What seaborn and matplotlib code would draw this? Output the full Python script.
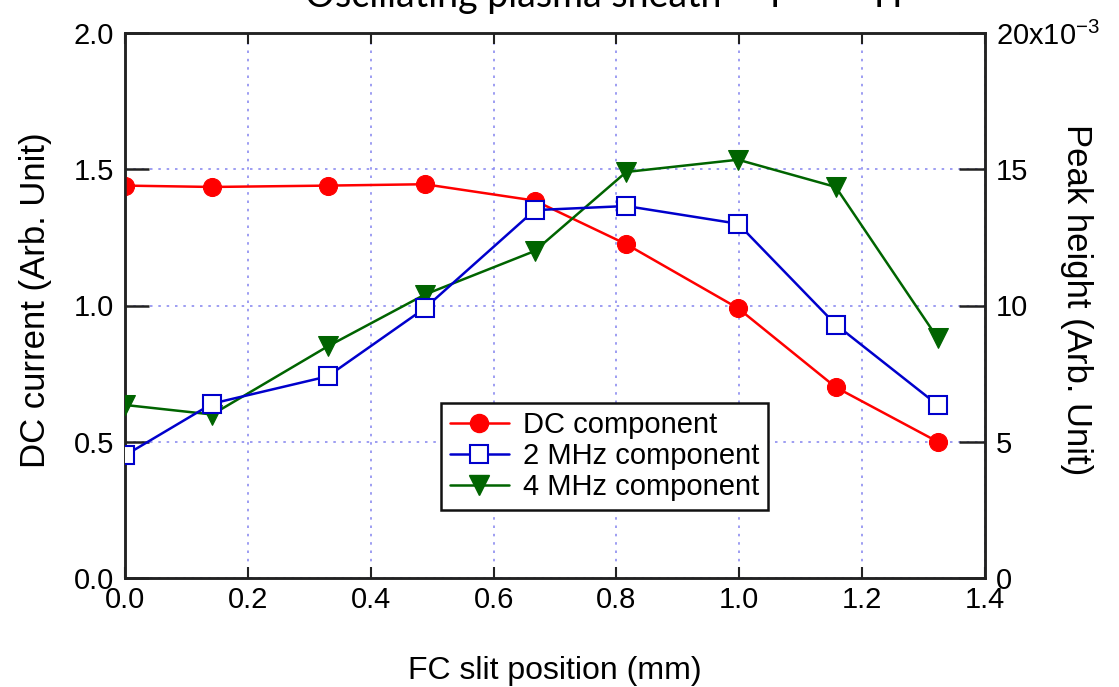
import matplotlib
matplotlib.use("Agg")
import matplotlib.pyplot as plt
from matplotlib import font_manager
from matplotlib.lines import Line2D
import seaborn as sns
import pandas as pd

# FC slit positions (mm)
slit_pos = [0.0, 0.142, 0.33, 0.488, 0.667, 0.816, 0.998, 1.157, 1.323]
# DC current (Arb. Unit), left axis
dc_current = [1.44, 1.435, 1.44, 1.445, 1.385, 1.225, 0.99, 0.70, 0.50]
# Peak heights (Arb. Unit), right axis
peak_2mhz = [4.5e-3, 6.4e-3, 7.4e-3, 9.9e-3, 13.5e-3, 13.65e-3, 13.0e-3, 9.3e-3, 6.35e-3]
peak_4mhz = [6.35e-3, 6.0e-3, 8.5e-3, 10.4e-3, 12.0e-3, 14.9e-3, 15.35e-3, 14.35e-3, 8.8e-3]

x_ticks = [0.0, 0.2, 0.4, 0.6, 0.8, 1.0, 1.2, 1.4]
left_ticks = [0.0, 0.5, 1.0, 1.5, 2.0]
right_ticks = [0.0, 5e-3, 10e-3, 15e-3, 20e-3]
right_labels = ["0", "5", "10", "15", "20x10$^{\u22123}$"]


def pick_font(*names):
    for n in names:
        try:
            font_manager.findfont(n, fallback_to_default=False)
            return n
        except Exception:
            continue
    return "DejaVu Sans"


sns.set_theme(style="white")
plt.rcParams["font.family"] = ["Liberation Sans", "DejaVu Sans"]
plt.rcParams["mathtext.fontset"] = "custom"
plt.rcParams["mathtext.rm"] = "Liberation Sans"
plt.rcParams["text.color"] = "black"
plt.rcParams["axes.labelcolor"] = "black"
plt.rcParams["xtick.color"] = "black"
plt.rcParams["ytick.color"] = "black"
title_font = pick_font("Lato", "Open Sans")

df = pd.DataFrame({"pos": slit_pos, "dc": dc_current,
                   "p2": peak_2mhz, "p4": peak_4mhz})

fig = plt.figure(figsize=(11.19, 6.87), dpi=100)
ax = fig.add_axes([125 / 1119, 1 - 578 / 687, 860 / 1119, 545 / 687])
ax2 = ax.twinx()

red, blue, green = "#ff0000", "#0000cc", "#006400"
lw = 1.8

sns.lineplot(data=df, x="pos", y="dc", ax=ax, color=red, marker="o",
             markersize=13, markeredgecolor=red, linewidth=lw, zorder=5)
sns.lineplot(data=df, x="pos", y="p2", ax=ax2, color=blue, marker="s",
             markersize=13, markerfacecolor="white", markeredgecolor=blue,
             markeredgewidth=1.5, linewidth=lw, zorder=4)
sns.lineplot(data=df, x="pos", y="p4", ax=ax2, color=green, marker="v",
             markersize=15, markeredgecolor=green, linewidth=lw, zorder=3)

ax.set_xlim(0, 1.4)
ax.set_ylim(0, 2.0)
ax2.set_ylim(0, 20e-3)

# dotted grid on the left axes
ax.set_xticks(x_ticks)
ax.set_yticks(left_ticks)
ax.grid(True, linestyle=(0, (1.5, 3.5)), color="#8c8cf0", linewidth=1.2)
ax.set_axisbelow(True)

ax.set_xticklabels([f"{v:.1f}" for v in x_ticks], fontsize=21)
ax.set_yticklabels([f"{v:.1f}" for v in left_ticks], fontsize=21)
ax2.set_yticks(right_ticks)
ax2.set_yticklabels(right_labels, fontsize=21)

ax.tick_params(axis="x", direction="in", length=8, width=1.5, top=True,
               bottom=True, pad=6, color="#222222")
ax.tick_params(axis="y", direction="in", length=17, width=1.8, left=True,
               pad=8, color="#222222")
ax2.tick_params(axis="y", direction="in", length=19, width=1.8, right=True,
                pad=8, color="#222222")

for a in (ax, ax2):
    for s in a.spines.values():
        s.set_linewidth(1.8)
        s.set_color("#222222")

ax.set_xlabel("FC slit position (mm)", fontsize=23, labelpad=30)
ax.set_ylabel("DC current (Arb. Unit)", fontsize=25, va="center")
ax.yaxis.set_label_coords(-0.104, 0.51)
ax2.set_ylabel("Peak height (Arb. Unit)", fontsize=25, rotation=270, va="center")
ax2.yaxis.set_label_coords(1.106, 0.51)

handles = [
    Line2D([], [], color=red, marker="o", markersize=13, linewidth=lw),
    Line2D([], [], color=blue, marker="s", markersize=13, markerfacecolor="white",
           markeredgewidth=1.5, linewidth=lw),
    Line2D([], [], color=green, marker="v", markersize=15, linewidth=lw),
]
labels = ["DC component", "2 MHz component", "4 MHz component"]
leg = ax2.legend(handles, labels, loc="lower left", bbox_to_anchor=(0.368, 0.125),
                 fontsize=21, frameon=True, fancybox=False, framealpha=1,
                 edgecolor="#111111", handlelength=2.0, borderpad=0.3,
                 labelspacing=0.1, handletextpad=0.5, borderaxespad=0)
leg.get_frame().set_linewidth(1.8)

# heading partly cut by the top edge
fig.text(305 / 1119, 1 - 7 / 687, "Oscillating plasma sheath", fontfamily=title_font,
         fontsize=27, va="baseline", ha="left", color="black")
fig.text(775 / 1119, 1 - 7 / 687, "I", fontfamily=title_font,
         fontsize=27, va="baseline", ha="center", color="black")
fig.text(888 / 1119, 1 - 7 / 687, "H", fontfamily=title_font,
         fontsize=27, va="baseline", ha="center", color="black")

fig.savefig("out.png", dpi=100, facecolor="white")
